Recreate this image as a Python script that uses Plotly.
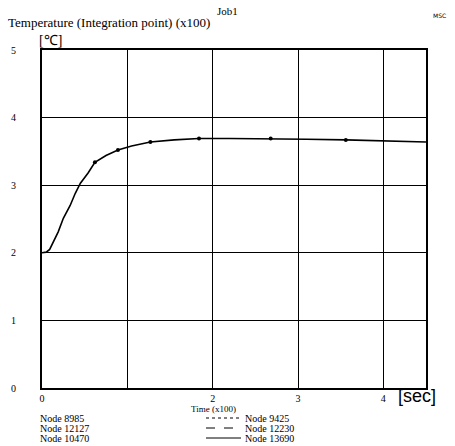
import plotly.graph_objects as go

# Data (time in x100 sec, temperature in x100 degC)
time_x100 = [0.0, 0.05, 0.09, 0.13, 0.19, 0.25, 0.33, 0.39, 0.45, 0.54, 0.62, 0.75, 0.89, 1.05, 1.27, 1.55, 1.84, 2.2, 2.68, 3.1, 3.56, 4.0, 4.5]
temp_x100 = [2.0, 2.01, 2.05, 2.16, 2.31, 2.51, 2.70, 2.88, 3.03, 3.18, 3.34, 3.44, 3.52, 3.58, 3.64, 3.67, 3.69, 3.69, 3.69, 3.68, 3.67, 3.66, 3.64]
marker_t = [0.62, 0.89, 1.27, 1.84, 2.68, 3.56]
marker_v = [3.34, 3.52, 3.64, 3.69, 3.69, 3.67]

x_tickvals = [0, 1, 2, 3, 4]
x_ticktext = ["0", "", "2", "3", "4"]
y_tickvals = [0, 1, 2, 3, 4, 5]

legend_left = ["Node 8985", "Node 12127", "Node 10470"]
legend_right = ["Node 9425", "Node 12230", "Node 13690"]

SERIF = "Liberation Serif"

fig = go.Figure()
fig.add_trace(go.Scatter(x=time_x100, y=temp_x100, mode="lines",
                         line=dict(color="black", width=1.6), showlegend=False))
fig.add_trace(go.Scatter(x=marker_t, y=marker_v, mode="markers",
                         marker=dict(color="black", size=4, symbol="circle"), showlegend=False))

axis_common = dict(showline=True, linecolor="black", linewidth=2, mirror=True,
                   showgrid=True, gridcolor="black", gridwidth=1, zeroline=False,
                   ticks="", tickfont=dict(family=SERIF, size=10, color="black"))

fig.update_xaxes(range=[0, 4.5], tickvals=x_tickvals, ticktext=x_ticktext,
                 ticklabelstandoff=0, **axis_common)
fig.update_yaxes(range=[0, 5], tickvals=y_tickvals, ticklabelstandoff=22, **axis_common)

fig.update_layout(
    width=455, height=446,
    margin=dict(l=42, r=29, t=50, b=58),
    paper_bgcolor="white", plot_bgcolor="white",
    font=dict(family=SERIF, color="black"),
)

# annotations placed by pixel coords of the full figure
def px(x, y, text, size, xanchor="left", family=SERIF):
    fx = (x - 42) / (426 - 42)
    fy = (388 - y) / (388 - 50)
    fig.add_annotation(x=fx, y=fy, xref="paper", yref="paper",
                       text=text, showarrow=False, xanchor=xanchor, yanchor="middle",
                       font=dict(family=family, size=size, color="black"))

px(227, 11, "Job1", 11, "center")
px(6, 23, "Temperature (Integration point) (x100)", 13)
px(37, 41, "[℃]", 14)
px(448, 15, "MSC", 6, "right", "DejaVu Sans")
px(396, 396, "[sec]", 18, "left", "Liberation Sans")
px(213, 409, "Time (x100)", 9, "center")
for i, t in enumerate(legend_left):
    px(38, 418 + 10 * i, t, 10)
for i, t in enumerate(legend_right):
    px(243, 418 + 10 * i, t, 10)

# legend line samples
def seg(x0, x1, y, dash):
    fx0 = (x0 - 42) / 384
    fx1 = (x1 - 42) / 384
    fy = (388 - y) / 338
    fig.add_shape(type="line", xref="paper", yref="paper", x0=fx0, x1=fx1, y0=fy, y1=fy,
                  line=dict(color="black", width=1, dash=dash))

seg(206, 241, 418, "dot")
seg(206, 241, 428, "dash")
seg(206, 241, 438, "solid")

fig.write_html("out.html")
